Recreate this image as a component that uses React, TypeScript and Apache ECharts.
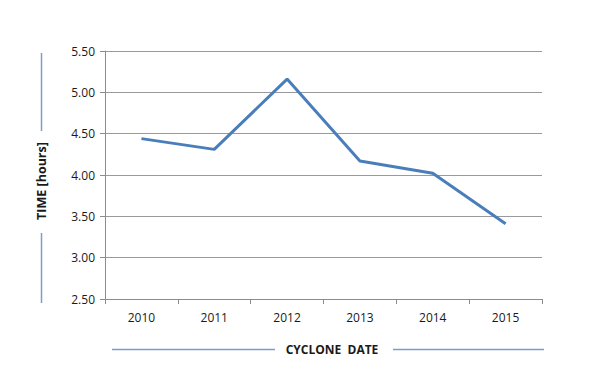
import React, { useEffect, useRef } from "react";
import * as echarts from "echarts";

const categories = ["2010", "2011", "2012", "2013", "2014", "2015"];
const timeHours = [4.44, 4.31, 5.16, 4.17, 4.02, 3.41];
const yMin = 2.5;
const yMax = 5.5;
const yInterval = 0.5;
const xTitle = "CYCLONE  DATE";
const yTitle = "TIME [hours]";

export default function App() {
  const ref = useRef<HTMLDivElement>(null);
  useEffect(() => {
    if (!ref.current) return;
    const chart = echarts.init(ref.current, null, { renderer: "svg" });
    const font = "'Open Sans', 'Liberation Sans', sans-serif";
    const lineColor = "#7e9cc8";
    const o = 8; // body margin offset
    chart.setOption({
      animation: false,
      backgroundColor: "#ffffff",
      grid: { left: 105 - o, right: 64, top: 51 - o, bottom: 89, containLabel: false },
      xAxis: {
        type: "category",
        data: categories,
        boundaryGap: true,
        axisLine: { show: true, lineStyle: { color: "#8c8c8c", width: 1 } },
        axisTick: { show: true, alignWithLabel: false, length: 5, lineStyle: { color: "#8c8c8c" } },
        axisLabel: { color: "#1a1a1a", fontSize: 12, fontFamily: font, margin: 12 },
        splitLine: { show: false },
      },
      yAxis: {
        type: "value",
        min: yMin,
        max: yMax,
        interval: yInterval,
        axisLine: { show: true, lineStyle: { color: "#8c8c8c", width: 1 } },
        axisTick: { show: true, length: 5, lineStyle: { color: "#8c8c8c" } },
        axisLabel: {
          color: "#1a1a1a",
          fontSize: 12,
          fontFamily: font,
          margin: 10,
          formatter: (v: number) => v.toFixed(2),
        },
        splitLine: { show: true, lineStyle: { color: "#9a9a9a", width: 1 } },
      },
      series: [
        {
          type: "line",
          data: timeHours,
          symbol: "none",
          lineStyle: { color: "#4a7ebb", width: 3 },
          itemStyle: { color: "#4a7ebb" },
        },
      ],
      graphic: [
        { type: "line", shape: { x1: 41.5 - o, y1: 53 - o, x2: 41.5 - o, y2: 131 - o }, style: { stroke: lineColor, lineWidth: 1.5 } },
        { type: "line", shape: { x1: 41.5 - o, y1: 233 - o, x2: 41.5 - o, y2: 303 - o }, style: { stroke: lineColor, lineWidth: 1.5 } },
        { type: "line", shape: { x1: 112 - o, y1: 349.5 - o, x2: 275 - o, y2: 349.5 - o }, style: { stroke: lineColor, lineWidth: 1.5 } },
        { type: "line", shape: { x1: 393 - o, y1: 349.5 - o, x2: 544 - o, y2: 349.5 - o }, style: { stroke: lineColor, lineWidth: 1.5 } },
        {
          type: "text",
          x: 332 - o,
          y: 349.5 - o,
          style: {
            text: xTitle,
            fill: "#1a1a1a",
            font: `bold 12px ${font}`,
            align: "center",
            verticalAlign: "middle",
          },
        },
        {
          type: "text",
          x: 41 - o,
          y: 181 - o,
          rotation: Math.PI / 2,
          style: {
            text: yTitle,
            fill: "#1a1a1a",
            font: `bold 12.5px ${font}`,
            align: "center",
            verticalAlign: "middle",
          },
        },
      ],
    });
    return () => chart.dispose();
  }, []);
  return <div ref={ref} style={{ width: 598, height: 380 }} />;
}
